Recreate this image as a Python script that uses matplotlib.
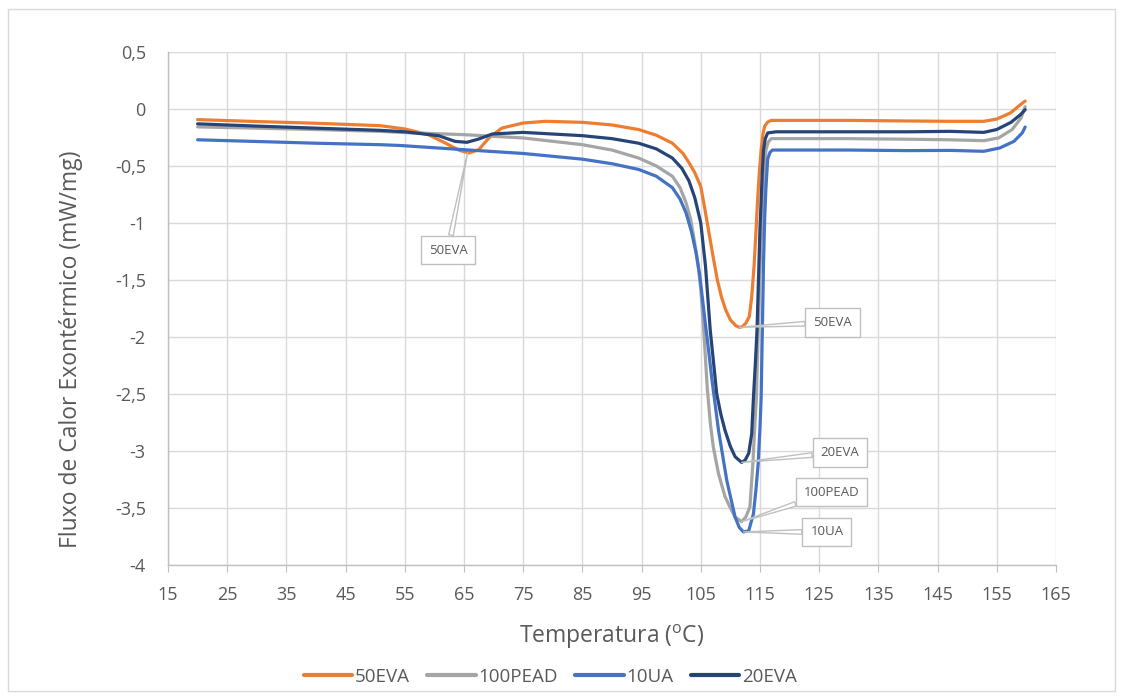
import matplotlib
matplotlib.use("Agg")
import matplotlib.pyplot as plt
from matplotlib.ticker import FuncFormatter, MultipleLocator
from matplotlib.patches import Rectangle

plt.rcParams['font.family'] = ['Open Sans', 'DejaVu Sans']
plt.rcParams['mathtext.fontset'] = 'custom'
plt.rcParams['mathtext.rm'] = 'Open Sans'
plt.rcParams['mathtext.it'] = 'Open Sans'

# ---------------- data ----------------
t_50eva = [20, 30, 40, 50.8, 55, 59, 61.9, 64.1, 65.8, 67.5, 69.2, 71.4, 75, 78.8, 85, 90,
           94.5, 97.5, 100.2, 102, 103, 104, 105, 105.7, 106.4, 107.1, 107.8, 108.5, 109.2,
           110, 110.9, 111.5, 112, 112.6, 113.2, 113.6, 114, 114.3, 114.6, 114.9, 115.2,
           115.5, 115.8, 116.3, 116.9, 120, 130, 140, 147, 152.8, 155, 157.3, 159, 159.8]
v_50eva = [-0.093, -0.11, -0.125, -0.146, -0.175, -0.225, -0.30, -0.36, -0.386, -0.357,
           -0.254, -0.167, -0.123, -0.108, -0.117, -0.14, -0.18, -0.23, -0.30, -0.39, -0.47,
           -0.56, -0.68, -0.88, -1.09, -1.30, -1.50, -1.65, -1.76, -1.85, -1.90, -1.915,
           -1.91, -1.88, -1.82, -1.65, -1.38, -1.10, -0.80, -0.55, -0.36, -0.22, -0.15,
           -0.115, -0.10, -0.10, -0.10, -0.105, -0.108, -0.108, -0.088, -0.035, 0.038, 0.07]

t_100pead = [20, 30, 40, 50.8, 54.2, 65, 75, 85, 90, 94.5, 97.5, 100.2, 101.5, 102.5, 103.3,
             103.9, 104.5, 105, 105.5, 106.1, 106.6, 107.1, 108, 109.1, 110, 110.8, 111.9,
             112.6, 113.3, 113.8, 114.1, 114.4, 114.7, 115.0, 115.3, 115.6, 116.0, 116.4,
             116.9, 130, 140, 147.1, 152.8, 155.3, 157.6, 159.1, 159.8]
v_100pead = [-0.157, -0.168, -0.18, -0.196, -0.205, -0.225, -0.254, -0.313, -0.36, -0.43,
             -0.50, -0.59, -0.69, -0.82, -0.97, -1.15, -1.35, -1.58, -1.94, -2.45, -2.75,
             -2.96, -3.20, -3.40, -3.50, -3.58, -3.62, -3.58, -3.49, -3.11, -2.80, -2.53,
             -1.94, -1.40, -1.05, -0.80, -0.36, -0.29, -0.26, -0.26, -0.265, -0.27, -0.278,
             -0.254, -0.18, -0.079, 0.02]

t_10ua = [20, 30, 40, 50.8, 54.2, 65, 75, 85, 90, 94.5, 97.5, 100.2, 101.5, 102.5, 103.4,
          104.2, 104.8, 105.3, 105.7, 106.1, 106.9, 108, 109.4, 110.8, 111.5, 112.2, 113.1,
          113.9, 114.3, 114.7, 115.0, 115.2, 115.4, 115.6, 115.8, 116.0, 116.3, 116.7, 117.1,
          130, 140, 147.1, 152.8, 155.5, 157.9, 159.3, 159.8]
v_10ua = [-0.27, -0.285, -0.30, -0.313, -0.32, -0.357, -0.39, -0.44, -0.48, -0.53, -0.59,
          -0.69, -0.79, -0.91, -1.07, -1.26, -1.45, -1.67, -1.85, -2.02, -2.38, -2.82, -3.26,
          -3.58, -3.67, -3.71, -3.70, -3.55, -3.35, -3.11, -2.80, -2.53, -1.94, -1.35, -0.95,
          -0.70, -0.44, -0.38, -0.36, -0.36, -0.365, -0.363, -0.371, -0.342, -0.284, -0.21,
          -0.158]

t_20eva = [20, 30, 40, 50.8, 55, 60.7, 63.5, 65.5, 67.5, 69.8, 75, 85, 90, 94.5, 97.5, 100.2,
           101.8, 103, 104, 105, 105.8, 106.6, 107.7, 108.4, 109.1, 110, 110.8, 111.9, 112.5,
           113.1, 113.6, 113.9, 114.2, 114.5, 114.8, 115.0, 115.2, 115.4, 115.6, 115.9, 116.3,
           117.7, 130, 140, 147.1, 152.8, 155, 157.4, 159, 159.8]
v_20eva = [-0.13, -0.15, -0.168, -0.187, -0.20, -0.234, -0.284, -0.292, -0.263, -0.219,
           -0.205, -0.234, -0.26, -0.30, -0.35, -0.43, -0.52, -0.63, -0.78, -1.00, -1.38,
           -1.94, -2.50, -2.68, -2.82, -2.96, -3.05, -3.10, -3.08, -3.02, -2.85, -2.53, -2.25,
           -1.94, -1.40, -1.05, -0.80, -0.55, -0.36, -0.26, -0.21, -0.20, -0.20, -0.20,
           -0.196, -0.205, -0.18, -0.117, -0.05, -0.006]

series_names = ["50EVA", "100PEAD", "10UA", "20EVA"]
series_colors = ["#ED7D31", "#A5A5A5", "#4472C4", "#264478"]

# callouts: label, point (T, value), box centre (T, value)
callout_labels = ["50EVA", "50EVA", "20EVA", "100PEAD", "10UA"]
callout_points = [(65.6, -0.385), (111.5, -1.915), (111.9, -3.10), (111.9, -3.62), (112.2, -3.71)]
callout_boxes = [(62.3, -1.237), (127.3, -1.87), (128.5, -3.01), (127.1, -3.36), (126.3, -3.71)]

x_ticks = list(range(15, 166, 10))

# ---------------- figure ----------------
fig = plt.figure(figsize=(11.23, 6.99), dpi=100)
ax = fig.add_axes([0.1496, 0.1917, 0.7907, 0.7339])

xs = [t_50eva, t_100pead, t_10ua, t_20eva]
ys = [v_50eva, v_100pead, v_10ua, v_20eva]
for t, v, name, col in zip(xs, ys, series_names, series_colors):
    ax.plot(t, v, color=col, lw=2.3, label=name, solid_capstyle='round', solid_joinstyle='round')

ax.set_xlim(15, 165)
ax.set_ylim(-4, 0.5)
ax.set_xticks(x_ticks)
ax.yaxis.set_major_locator(MultipleLocator(0.5))
fmt = FuncFormatter(lambda v, p: ("%g" % v).replace(".", ","))
ax.yaxis.set_major_formatter(fmt)
ax.grid(True, color="#d9d9d9", lw=1)
ax.set_axisbelow(True)
for s in ["top", "right"]:
    ax.spines[s].set_visible(False)
for s in ["left", "bottom"]:
    ax.spines[s].set_color("#bfbfbf")
    ax.spines[s].set_linewidth(1)
ax.tick_params(axis='x', colors="#bfbfbf", labelcolor="#595959", labelsize=13, length=5, pad=10)
ax.tick_params(axis='y', length=0, labelcolor="#595959", labelsize=13, pad=16)

ax.set_xlabel(r"Temperatura (${}^{\mathrm{o}}$C)", fontsize=16.5, color="#595959", labelpad=14)
ax.set_ylabel("Fluxo de Calor Exontérmico (mW/mg)", fontsize=16.5, color="#595959")
ax.yaxis.set_label_coords(-0.096, 0.42)

for lab, pt, bx in zip(callout_labels, callout_points, callout_boxes):
    ax.annotate(lab, xy=pt, xytext=bx, ha="center", va="center", fontsize=9.5, color="#595959",
                bbox=dict(boxstyle="square,pad=0.6", fc="white", ec="#bfbfbf", lw=1),
                arrowprops=dict(arrowstyle="wedge,tail_width=0.35,shrink_factor=0.5",
                                fc="white", ec="#bfbfbf", lw=1, shrinkA=0, shrinkB=0),
                zorder=5)

leg = fig.legend(loc="center", bbox_to_anchor=(0.49, 0.032), ncol=4, frameon=False,
                 fontsize=13.5, handlelength=2.6, handletextpad=0.15, columnspacing=0.9,
                 labelcolor="#595959")
for h in leg.legend_handles:
    h.set_linewidth(3)

fig.add_artist(Rectangle((0.007, 0.012), 0.986, 0.975, transform=fig.transFigure,
                         fill=False, ec="#d9d9d9", lw=1))

fig.savefig("out.png", dpi=100)
